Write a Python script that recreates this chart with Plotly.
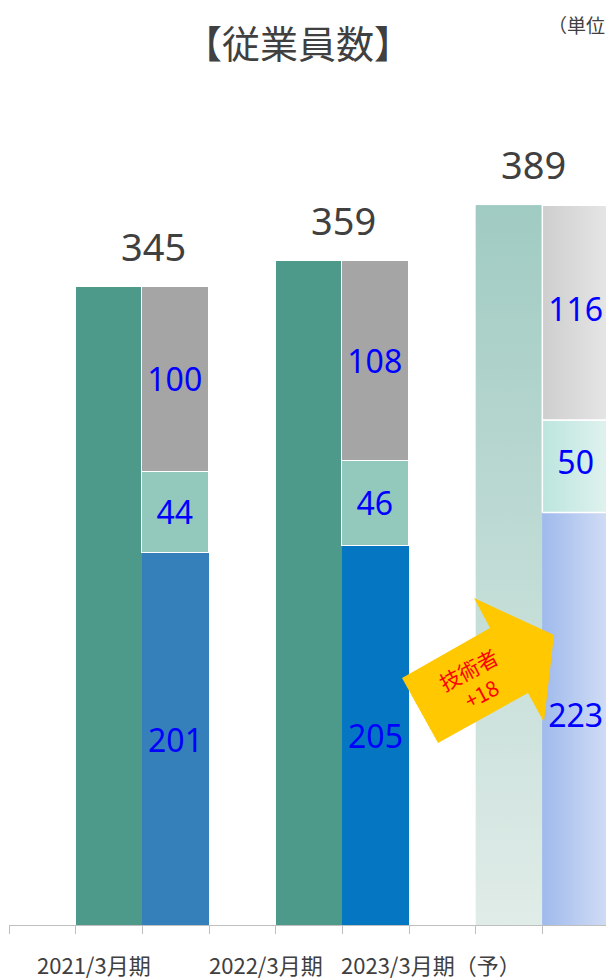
import plotly.graph_objects as go

# ---- data ----
categories = ["2021/3月期", "2022/3月期", "2023/3月期（予）"]
totals = [345, 359, 389]
engineers = [201, 205, 223]
group2 = [44, 46, 50]
group3 = [100, 108, 116]
arrow_text = "技術者<br>+18"
title_text = "【従業員数】"
unit_text = "（単位：人）"

# ---- styles ----
FONT = "Noto Sans, Noto Sans CJK JP, sans-serif"
JP = "Noto Sans CJK JP, sans-serif"
W, H = 606, 980
ML, MT, MB = 9, 0, 55
PW, PH = W - ML, H - MT - MB
SLOT = 200 / 3.0
PX_PER_UNIT = 1.85

total_colors = ["#4e9a8a", "#4e9a8a", "#bcd9d3"]
eng_colors = ["#357fba", "#0577c2", "#aac2ee"]
g2_colors = ["#93c8bd", "#93c8bd", "#cdebe5"]
g3_colors = ["#a5a5a5", "#a5a5a5", "#dedede"]

# gradient fills for the forecast year (last category)
grad_total = ("vertical", "#e0ece8", "#a0cbc2")
grad_eng = ("horizontal", "#9fbaec", "#d2ddf5")
grad_g2 = ("horizontal", "#bce5de", "#e0f2ee")
grad_g3 = ("horizontal", "#cecece", "#e6e6e6")

n = len(categories)
x_total = [3 * i + 1.5 for i in range(n)]
x_stack = [3 * i + 2.5 for i in range(n)]
seg_font = dict(family=FONT, size=32, color="#0000ff")


def lab(vals):
    return [str(v) for v in vals[:-1]] + [""]


fig = go.Figure()
fig.add_trace(go.Bar(x=x_total, y=totals, width=1.0, marker=dict(color=total_colors, line=dict(width=0)),
                     name="合計", hoverinfo="y"))
fig.add_trace(go.Bar(x=x_stack, y=engineers, width=1.0, name="技術者",
                     marker=dict(color=eng_colors, line=dict(width=0)),
                     text=lab(engineers), textposition="inside", insidetextanchor="middle",
                     textfont=seg_font, constraintext="none", textangle=0))
fig.add_trace(go.Bar(x=x_stack, y=group2, width=1.0, name="区分2",
                     marker=dict(color=g2_colors, line=dict(width=1.5, color="white")),
                     text=lab(group2), textposition="inside", insidetextanchor="middle",
                     textfont=seg_font, constraintext="none", textangle=0))
fig.add_trace(go.Bar(x=x_stack, y=group3, width=1.0, name="区分3",
                     marker=dict(color=g3_colors, line=dict(width=1.5, color="white")),
                     text=lab(group3), textposition="inside", insidetextanchor="middle",
                     textfont=seg_font, constraintext="none", textangle=0))


# gradient overlays for the last category, built from the same values
def grad_rect(xc, y0, y1, grad, outline):
    kind, c0, c1 = grad
    fig.add_trace(go.Scatter(
        x=[xc - 0.5, xc + 0.5, xc + 0.5, xc - 0.5, xc - 0.5], y=[y0, y0, y1, y1, y0],
        mode="lines", fill="toself", hoverinfo="skip", showlegend=False,
        line=dict(color="white" if outline else "rgba(0,0,0,0)", width=1.5 if outline else 0),
        fillgradient=dict(type=kind, colorscale=[[0, c0], [1, c1]])))


k = n - 1
grad_rect(x_total[k], 0, totals[k], grad_total, False)
b1 = engineers[k]
b2 = b1 + group2[k]
b3 = b2 + group3[k]
grad_rect(x_stack[k], 0, b1, grad_eng, False)
grad_rect(x_stack[k], b1, b2, grad_g2, True)
grad_rect(x_stack[k], b2, b3, grad_g3, True)
fig.add_trace(go.Scatter(x=[x_stack[k]] * 3, y=[b1 / 2, (b1 + b2) / 2, (b2 + b3) / 2],
                         text=[str(engineers[k]), str(group2[k]), str(group3[k])],
                         mode="text", textposition="middle center", textfont=seg_font,
                         hoverinfo="skip", showlegend=False))

# total labels
offs = [0.16, 0.02, -0.14]
for i, v in enumerate(totals):
    fig.add_annotation(x=3 * i + 2 + offs[i], y=v, text=str(v), showarrow=False, yshift=41,
                       xanchor="center", yanchor="middle",
                       font=dict(family=FONT, size=38, color="#404040"))


def px2paper(px, py):
    return (px - ML) / PW, (MT + PH - py) / PH


# category labels
label_cx = [94, 266, 431]
for labl, cx in zip(categories, label_cx):
    xp, yp = px2paper(cx, 964)
    fig.add_annotation(xref="paper", yref="paper", x=xp, y=yp, text=labl, showarrow=False,
                       xanchor="center", yanchor="middle", borderpad=0,
                       font=dict(family=JP, size=22, color="#404040"))

# title & unit
xp, yp = px2paper(298, 42)
fig.add_annotation(xref="paper", yref="paper", x=xp, y=yp, text=title_text, showarrow=False,
                   xanchor="center", yanchor="middle", font=dict(family=JP, size=38, color="#404040"))
xp, yp = px2paper(546, 25)
fig.add_annotation(xref="paper", yref="paper", x=xp, y=yp, text=unit_text, showarrow=False,
                   xanchor="left", yanchor="middle", font=dict(family=JP, size=19, color="#404040"))

# block arrow
pts = [(438, 743), (402, 678), (490, 628), (474, 598), (554, 635), (544, 722), (528, 693)]
path = "M " + " L ".join("%.4f,%.4f" % px2paper(a, b) for a, b in pts) + " Z"
fig.add_shape(type="path", xref="paper", yref="paper", path=path,
              fillcolor="#ffc800", line=dict(width=0), layer="above")
xp, yp = px2paper(474, 681)
fig.add_annotation(xref="paper", yref="paper", x=xp, y=yp, text=arrow_text, showarrow=False,
                   textangle=-28, xanchor="center", yanchor="middle",
                   font=dict(family=JP, size=21, color="#ff0000"))

fig.update_layout(
    width=W, height=H, margin=dict(l=ML, r=0, t=MT, b=MB, pad=0),
    barmode="stack", bargap=0, showlegend=False,
    plot_bgcolor="white", paper_bgcolor="white",
    xaxis=dict(range=[0, PW / SLOT], tickvals=list(range(0, 10)), ticks="outside", ticklen=8,
               tickcolor="#bfbfbf", showline=True, linecolor="#bfbfbf", linewidth=1,
               showticklabels=False, showgrid=False, zeroline=False, fixedrange=True),
    yaxis=dict(range=[0, PH / PX_PER_UNIT], visible=False, fixedrange=True),
)
fig.write_html("out.html", config={"displayModeBar": False},
               post_script="document.body.style.margin='0';document.body.style.overflow='hidden';")
